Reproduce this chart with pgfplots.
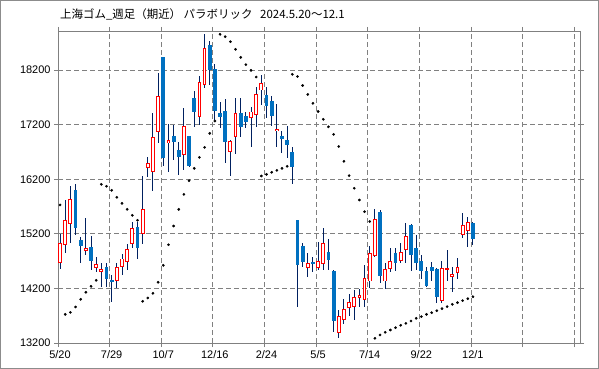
\documentclass[border=0pt]{standalone}
\usepackage{fontspec}
\setmainfont{Liberation Sans}
\newfontfamily\jp{Noto Sans CJK JP}
\usepackage{pgfplots}
\pgfplotsset{compat=1.18}
\usepackage{pgfplotstable}
\definecolor{wick}{HTML}{002060}
\definecolor{dn}{HTML}{0070C0}
\definecolor{upc}{HTML}{FF0000}
\definecolor{gridc}{HTML}{808080}
\definecolor{outer}{HTML}{8C8C8C}

% k open high low close  (up candles)
\pgfplotstableread{
k o h l c
0 14678 15197 14562 15026
1 15008 15820 14849 15448
2 15393 16077 15026 15832
5 14892 15484 14813 14935
7 14580 14770 14507 14642
8 14513 14672 14232 14550
11 14348 14660 14202 14587
12 14599 14825 14446 14739
13 14696 15008 14538 14916
14 15026 15420 14935 15301
16 15209 16260 15014 15649
17 16418 16601 16247 16485
18 16345 17407 15990 16968
19 17071 18152 16870 17725
21 16870 17212 16339 16913
24 16656 17499 16369 17169
27 17352 18097 17200 17981
28 17932 18861 17877 18604
33 16711 16919 16265 16894
34 16980 17682 16662 17407
37 17334 17529 16784 17432
38 17389 17896 17163 17755
39 17835 18110 17560 17957
42 17090 17579 16797 17115
48 14586 14843 14403 14660
50 14586 15051 14538 14702
51 14660 15301 14538 15026
54 13389 13805 13286 13683
55 13622 14000 13548 13817
56 13854 14092 13695 13945
57 13866 14171 13622 14037
58 14037 14189 13866 14073
59 14000 14629 13854 14385
60 14336 14977 14202 14843
61 14800 15649 14770 15454
63 14336 14660 14183 14538
64 14568 14934 14507 14702
66 14709 15026 14672 14861
67 14916 15393 14660 15160
74 13976 14709 13927 14556
75 14550 14904 14342 14568
76 14421 14599 14141 14458
77 14495 14751 14367 14586
78 15191 15576 15118 15356
79 15258 15515 14965 15411
}\upc

% down candles
\pgfplotstableread{
k o h l c
3 16003 16113 15179 15313
4 15087 15148 14672 14984
6 14959 15167 14538 14709
9 14593 14672 14232 14379
10 14354 14446 13958 14324
15 15319 15420 14745 14947
20 18433 18440 16442 16595
22 16992 17194 16552 16888
23 16735 16888 16277 16613
25 16992 17000 16430 16448
26 17688 17816 17151 17438
29 18659 18732 17926 18195
30 18219 18317 17285 17456
31 17413 17621 17132 17340
32 17450 17664 16491 16888
35 17407 17682 16980 17163
36 17358 17438 17132 17255
40 17744 17884 17316 17548
41 17628 17725 17182 17365
43 16993 17090 16687 16944
44 16919 17182 16596 16834
45 16699 16785 16119 16431
46 15448 15460 13854 14635
47 14977 15032 14586 14690
49 14690 14782 14507 14641
52 14867 15099 14538 14721
53 14519 14538 13408 13609
62 15606 15637 14293 14428
65 14843 14934 14519 14660
68 15362 15380 14525 14812
69 14934 15179 14538 14660
70 14702 14812 14367 14525
71 14525 14599 14232 14251
72 14592 14678 14342 14525
73 14556 14568 13939 14049
80 15393 15417 14989 15099
}\dnc

% parabolic SAR
\pgfplotstableread{
k s
0 15729
1 13725
2 13762
3 13860
4 14000
5 14129
6 14238
7 14348
8 16107
9 16071
10 15997
11 15869
12 15759
13 15649
14 15539
15 15448
16 13964
17 14025
18 14110
19 14312
20 14623
21 15000
22 15343
23 15648
24 15923
25 16174
26 16400
27 16601
28 16784
29 17041
30 17267
31 18855
32 18812
33 18720
34 18580
35 18433
36 18299
37 18195
38 18073
39 16260
40 16290
41 16327
42 16363
43 16400
44 16437
45 18122
46 18083
47 17918
48 17753
49 17591
50 17441
51 17298
52 17160
53 17023
54 16800
55 16528
56 16266
57 16034
58 15820
59 15606
60 15426
61 13286
62 13347
63 13396
64 13438
65 13481
66 13524
67 13560
68 13603
69 13652
70 13683
71 13725
72 13756
73 13792
74 13829
75 13866
76 13908
77 13939
78 13976
79 14012
80 14049
}\sar

\begin{document}
\begin{tikzpicture}
\useasboundingbox (0bp,0bp) rectangle (599bp,369bp);
\draw[outer, line width=1bp] (0.5bp,0.5bp) rectangle (598.5bp,368.5bp);
\node[anchor=west, inner sep=0pt, font=\jp\fontsize{11.5}{12}\selectfont] at (60bp,355bp) {上海ゴム\_週足（期近）\ パラボリック\ \ \ 2024.5.20～12.1};
\begin{axis}[
  at={(58bp,26bp)}, anchor=south west, scale only axis,
  width=522bp, height=312bp,
  xmin=-0.4, xmax=100.74, ymin=13200, ymax=18916,
  axis line style={draw=gridc, line width=0.9bp},
  xtick={-0.4,9.6,19.6,29.6,39.6,49.6,59.6,69.6,79.6,89.6,99.6},
  xticklabels={5/20,7/29,10/7,12/16,2/24,5/5,7/14,9/22,12/1,,},
  ytick={13200,14200,15200,16200,17200,18200},
  scaled y ticks=false,
  tick align=outside, major tick length=4bp,
  tick style={gridc, line width=0.8bp},
  grid=major,
  major grid style={gridc, line width=0.8bp, dash pattern=on 5bp off 3bp},
  ticklabel style={font=\fontsize{11}{12}\selectfont, text=black},
  xticklabel style={xshift=2bp},
  /pgf/number format/assume math mode=true,
  /pgf/number format/1000 sep={},
  clip=true,
]
% wicks
\addplot[draw=none, mark=none, forget plot,
  error bars/.cd, y dir=both, y explicit, error mark=none,
  error bar style={draw=wick, line width=1bp, solid}]
  table[x=k, y expr={(\thisrow{h}+\thisrow{l})/2}, y error expr={(\thisrow{h}-\thisrow{l})/2}] \upc;
\addplot[draw=none, mark=none, forget plot,
  error bars/.cd, y dir=both, y explicit, error mark=none,
  error bar style={draw=wick, line width=1bp, solid}]
  table[x=k, y expr={(\thisrow{h}+\thisrow{l})/2}, y error expr={(\thisrow{h}-\thisrow{l})/2}] \dnc;
% down bodies
\addplot[draw=none, mark=none, forget plot,
  error bars/.cd, y dir=both, y explicit, error mark=none,
  error bar style={draw=dn, line width=3.8bp, solid}]
  table[x=k, y expr={(\thisrow{o}+\thisrow{c})/2}, y error expr={(\thisrow{o}-\thisrow{c})/2}] \dnc;
% up bodies: red outline, white inside
\addplot[draw=none, mark=none, forget plot,
  error bars/.cd, y dir=both, y explicit, error mark=none,
  error bar style={draw=upc, line width=3.8bp, solid}]
  table[x=k, y expr={(\thisrow{o}+\thisrow{c})/2}, y error expr={(\thisrow{c}-\thisrow{o})/2+9}] \upc;
\addplot[draw=none, mark=none, forget plot,
  error bars/.cd, y dir=both, y explicit, error mark=none,
  error bar style={draw=white, line width=1.8bp, solid}]
  table[x=k, y expr={(\thisrow{o}+\thisrow{c})/2}, y error expr={max((\thisrow{c}-\thisrow{o})/2-9,0)}] \upc;
% SAR
\addplot[only marks, mark=*, mark size=1.15bp, black, mark options={draw=black, fill=black}]
  table[x=k, y=s] \sar;
\end{axis}
\end{tikzpicture}
\end{document}
